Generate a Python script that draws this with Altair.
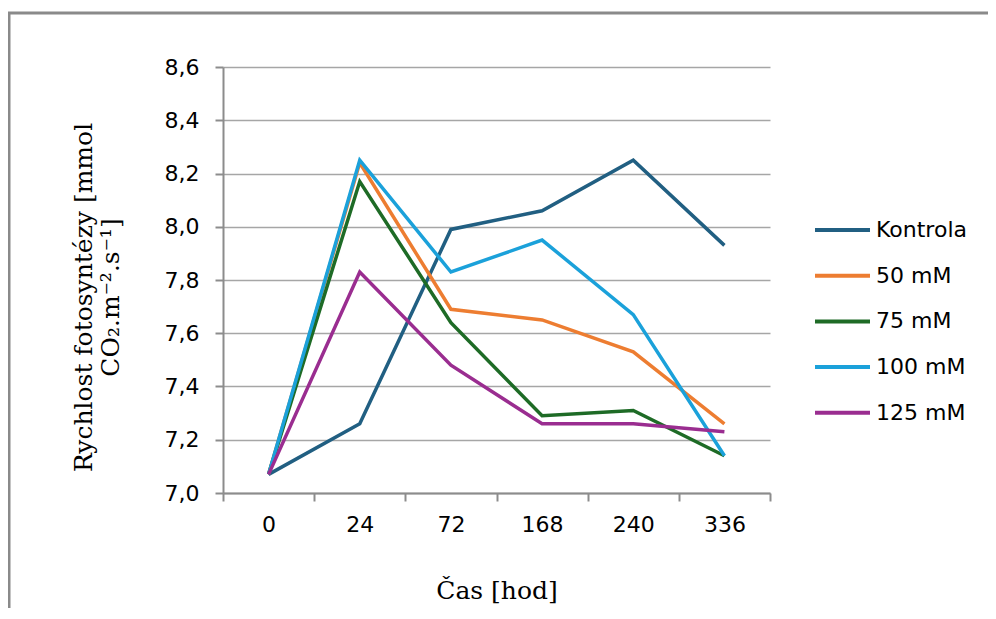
import altair as alt
import pandas as pd

hours = ["0", "24", "72", "168", "240", "336"]
series_names = ["Kontrola", "50 mM", "75 mM", "100 mM", "125 mM"]
kontrola = [7.07, 7.26, 7.99, 8.06, 8.25, 7.93]
mm50 = [7.07, 8.24, 7.69, 7.65, 7.53, 7.26]
mm75 = [7.07, 8.17, 7.64, 7.29, 7.31, 7.14]
mm100 = [7.07, 8.25, 7.83, 7.95, 7.67, 7.14]
mm125 = [7.07, 7.83, 7.48, 7.26, 7.26, 7.23]
colors = ["#215f82", "#ed7d31", "#1e6b26", "#1ba1da", "#9a2d90"]

rows = []
for name, vals in zip(series_names, [kontrola, mm50, mm75, mm100, mm125]):
    for h, v in zip(hours, vals):
        rows.append({"hod": h, "val": v, "serie": name})
df = pd.DataFrame(rows)

W, H = 547, 426
PL, PT = 215, 59
CW, CH = 980, 600

lines = alt.Chart(df).mark_line(strokeWidth=3.5).encode(
    x=alt.X("hod:O", sort=hours, bandPosition=0.5,
            scale=alt.Scale(type="band", paddingInner=0, paddingOuter=0),
            axis=alt.Axis(title="Čas [hod]", labelAngle=0, tickBand="extent",
                          grid=False, domainColor="#8c8c8c", domainWidth=2,
                          tickColor="#8c8c8c", tickWidth=2, tickSize=8,
                          labelFont="DejaVu Sans", labelFontSize=22, labelColor="#000",
                          labelPadding=13, titleFont="DejaVu Serif", titleFontSize=25,
                          titleFontWeight="normal", titleColor="#000", titlePadding=43)),
    y=alt.Y("val:Q", scale=alt.Scale(domain=[7.0, 8.6], nice=False, zero=False),
            axis=alt.Axis(title=["Rychlost fotosyntézy [mmol", "CO₂.m⁻².s⁻¹]"],
                          values=[7.0, 7.2, 7.4, 7.6, 7.8, 8.0, 8.2, 8.4, 8.6],
                          labelExpr="replace(format(datum.value, '.1f'), '.', ',')",
                          gridColor="#a6a6a6", gridWidth=1.5,
                          domainColor="#8c8c8c", domainWidth=2,
                          tickColor="#8c8c8c", tickWidth=2, tickSize=8,
                          labelFont="DejaVu Sans", labelFontSize=22, labelColor="#000",
                          labelPadding=16, titleFont="DejaVu Serif", titleFontSize=25,
                          titleFontWeight="normal", titleColor="#000", titlePadding=41,
                          titleLineHeight=27, titleY=230)),
    color=alt.Color("serie:N", sort=series_names,
                    scale=alt.Scale(domain=series_names, range=colors),
                    legend=alt.Legend(title=None, orient="none", legendX=590, legendY=153,
                                      symbolType="stroke", symbolSize=3025,
                                      symbolStrokeWidth=4, clipHeight=20, rowPadding=23.7,
                                      labelFont="DejaVu Sans", labelFontSize=22,
                                      labelColor="#000", labelOffset=4)),
    order=alt.Order("serie:N"),
)

frame = alt.Chart(pd.DataFrame({"a": [0]})).mark_rect(
    filled=False, stroke="#8a8a8a", strokeWidth=3).encode(
    x=alt.value(-214), x2=alt.value(900), y=alt.value(-54), y2=alt.value(700))

chart = alt.layer(frame, lines).properties(
    width=W, height=H,
    autosize=alt.AutoSizeParams(type="none"),
    padding={"left": PL, "top": PT, "right": CW - PL - W, "bottom": CH - PT - H},
    background="white",
).configure_view(stroke=None)

chart.save("out.html", embed_options={"renderer": "svg", "actions": False})
